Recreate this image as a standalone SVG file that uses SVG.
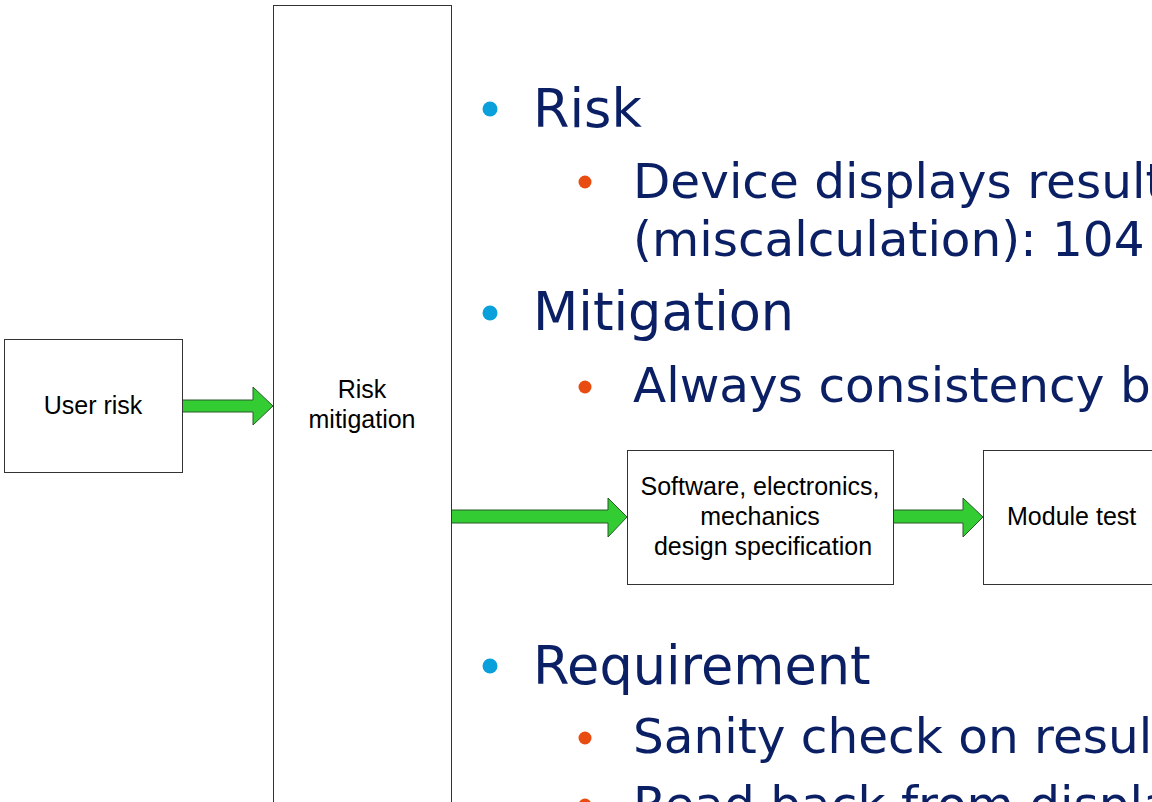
<svg xmlns="http://www.w3.org/2000/svg" width="1152" height="802" viewBox="0 0 1152 802">
  <style>
    .box { fill: #ffffff; stroke: #333333; stroke-width: 1; }
    .lbl { font-family: "Liberation Sans", Arial, sans-serif; font-size: 25px; fill: #000000; }
    .flow { fill: #33CC33; stroke: #2a5a2a; stroke-width: 1; stroke-linejoin: miter; }
    .l1 { font-family: "DejaVu Sans", Verdana, sans-serif; font-size: 52.5px; fill: #0B1F65; }
    .l2 { font-family: "DejaVu Sans", Verdana, sans-serif; font-size: 48.5px; fill: #0B1F65; }
    .b1 { fill: #0AA0DC; }
    .b2 { fill: #E84C10; }
  </style>
  <rect width="1152" height="802" fill="#ffffff"/>

  <!-- bullet text -->
  <g id="bullets">
    <circle class="b1" cx="490" cy="109" r="7.5"/>
    <text class="l1" x="533" y="127">Risk</text>
    <circle class="b2" cx="585" cy="182" r="6.5"/>
    <text class="l2" x="633" y="198">Device displays result</text>
    <text class="l2" x="633" y="256">(miscalculation): 104</text>

    <circle class="b1" cx="490" cy="313" r="7.5"/>
    <text class="l1" x="533" y="330">Mitigation</text>
    <circle class="b2" cx="585" cy="387" r="6.5"/>
    <text class="l2" x="633" y="402">Always consistency be</text>

    <circle class="b1" cx="490" cy="666" r="7.5"/>
    <text class="l1" x="533" y="684">Requirement</text>
    <circle class="b2" cx="585" cy="738" r="6.5"/>
    <text class="l2" x="633" y="753">Sanity check on result</text>
    <circle class="b2" cx="585" cy="805" r="6.5"/>
    <text class="l2" x="633" y="821">Read back from display</text>
  </g>

  <!-- block arrows between stages -->
  <g id="connectors">
    <polygon class="flow" points="182,400 253,400 253,387 273,406 253,425 253,412 182,412"/>
    <polygon class="flow" points="451,510 608,510 608,498 627,517 608,537 608,523 451,523"/>
    <polygon class="flow" points="893,510 963,510 963,498 983,517 963,537 963,523 893,523"/>
  </g>

  <g id="user-risk">
    <rect class="box" x="4.5" y="339.5" width="178" height="133"/>
    <text class="lbl" x="93" y="414" text-anchor="middle">User risk</text>
  </g>

  <g id="risk-mitigation">
    <rect class="box" x="273.5" y="5.5" width="178" height="820"/>
    <text class="lbl" x="362" y="398" text-anchor="middle">Risk</text>
    <text class="lbl" x="362" y="428" text-anchor="middle">mitigation</text>
  </g>

  <g id="design-spec">
    <rect class="box" x="627.5" y="450.5" width="266" height="134"/>
    <text class="lbl" x="760" y="495" text-anchor="middle">Software, electronics,</text>
    <text class="lbl" x="760" y="525" text-anchor="middle">mechanics</text>
    <text class="lbl" x="763" y="555" text-anchor="middle">design specification</text>
  </g>

  <g id="module-test">
    <rect class="box" x="983.5" y="450.5" width="200" height="134"/>
    <text class="lbl" x="1007" y="525">Module test</text>
  </g>
</svg>
